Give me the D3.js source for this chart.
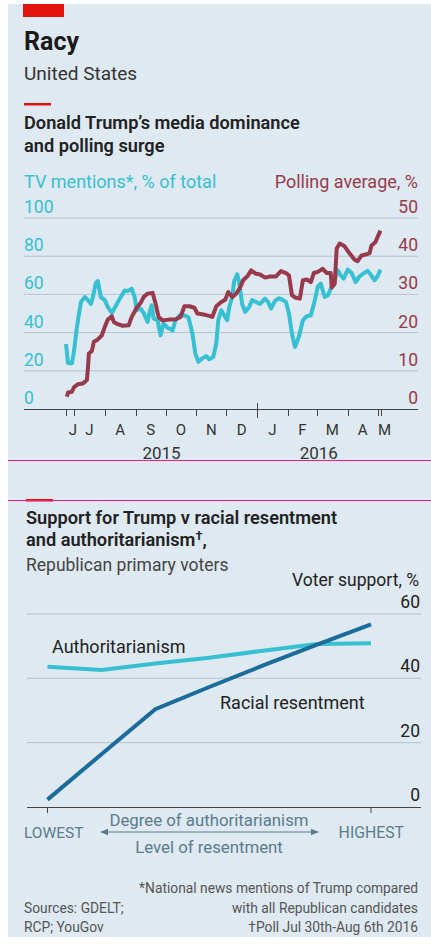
<!DOCTYPE html>
<html>
<head>
<meta charset="utf-8">
<script src="https://cdn.jsdelivr.net/npm/d3@7"></script>
<style>
  body { margin: 0; background: #fff; }
  svg text { font-family: Roboto, "Noto Sans", sans-serif; }
</style>
</head>
<body>
<svg id="chart" width="431" height="944"></svg>
<script>
// TV mentions, % of total (left axis)
var tvMentions = [
  ["2015-06-23",34],["2015-06-25",24],["2015-06-29",24],["2015-07-01",30],["2015-07-04",43],
  ["2015-07-08",56],["2015-07-12",58.6],["2015-07-15",57],["2015-07-18",55],["2015-07-20",58.6],
  ["2015-07-23",66],["2015-07-25",67],["2015-07-28",58.6],["2015-08-01",57],["2015-08-04",53.4],
  ["2015-08-08",50.3],["2015-08-11",53],["2015-08-16",57.8],["2015-08-21",62],["2015-08-24",61.8],
  ["2015-08-28",63],["2015-08-31",58.6],["2015-09-02",51.7],["2015-09-06",52.6],["2015-09-09",50.3],
  ["2015-09-13",45.6],["2015-09-15",50.8],["2015-09-17",54.3],["2015-09-19",47.4],["2015-09-23",46.5],
  ["2015-09-26",38.6],["2015-09-29",44.8],["2015-10-03",42.5],["2015-10-06",42],["2015-10-08",41],
  ["2015-10-11",46.5],["2015-10-15",49],["2015-10-20",49],["2015-10-24",48],["2015-10-28",39.5],
  ["2015-10-31",29],["2015-11-03",24.7],["2015-11-07",26.5],["2015-11-11",27.7],["2015-11-14",26],
  ["2015-11-18",27.3],["2015-11-21",34.3],["2015-11-23",46.5],["2015-11-26",51.7],["2015-11-29",49],
  ["2015-12-02",46.5],["2015-12-04",53.4],["2015-12-07",58.6],["2015-12-09",67],["2015-12-12",70.5],
  ["2015-12-14",66.5],["2015-12-17",55],["2015-12-20",50.8],["2015-12-24",53.4],["2015-12-27",57],
  ["2015-12-31",56],["2016-01-04",55],["2016-01-09",57.8],["2016-01-12",56],["2016-01-15",52.6],
  ["2016-01-19",56.6],["2016-01-23",58],["2016-01-27",57],["2016-01-30",56],["2016-02-02",50],
  ["2016-02-05",39.5],["2016-02-08",32.5],["2016-02-12",37.8],["2016-02-16",46.5],["2016-02-20",48.6],
  ["2016-02-24",49],["2016-02-28",57],["2016-03-02",64],["2016-03-05",65.6],["2016-03-09",58.6],
  ["2016-03-12",59.5],["2016-03-16",64],["2016-03-19",67.4],["2016-03-22",72.6],["2016-03-25",70],
  ["2016-03-28",68.3],["2016-04-01",73],["2016-04-05",71.2],["2016-04-09",66.5],["2016-04-13",69.5],
  ["2016-04-17",71],["2016-04-21",72.3],["2016-04-24",70.5],["2016-04-28",67.4],["2016-05-01",69.5],
  ["2016-05-04",73]
];

// Polling average, % (right axis)
var pollAverage = [
  ["2015-06-24",3.2],["2015-06-25",4.3],["2015-06-29",4.5],["2015-07-01",5.7],["2015-07-05",6.5],
  ["2015-07-10",6.7],["2015-07-14",7.6],["2015-07-15",10.6],["2015-07-16",14.5],["2015-07-19",15.2],
  ["2015-07-21",17.6],["2015-07-25",18.2],["2015-07-29",19.3],["2015-08-01",21.5],["2015-08-04",23.4],
  ["2015-08-08",24.3],["2015-08-10",22.8],["2015-08-14",22.2],["2015-08-19",21.8],["2015-08-25",21.9],
  ["2015-08-28",24.1],["2015-09-02",26.5],["2015-09-06",27.8],["2015-09-09",29.3],["2015-09-13",30.2],
  ["2015-09-18",30.4],["2015-09-21",27.6],["2015-09-24",24.1],["2015-09-28",23.2],["2015-10-05",23.4],
  ["2015-10-11",23.4],["2015-10-16",24.1],["2015-10-20",26.9],["2015-10-25",26.9],["2015-10-30",26.5],
  ["2015-11-02",25],["2015-11-07",24.8],["2015-11-12",24.5],["2015-11-17",24.1],["2015-11-21",26.9],
  ["2015-11-26",28],["2015-11-30",28.6],["2015-12-03",30.6],["2015-12-07",29.3],["2015-12-11",30.2],
  ["2015-12-15",31.8],["2015-12-18",33.7],["2015-12-23",35],["2015-12-26",36.3],["2015-12-31",35.4],
  ["2016-01-04",35.2],["2016-01-09",34.4],["2016-01-14",34.7],["2016-01-20",34.7],["2016-01-25",36.1],
  ["2016-01-30",35.6],["2016-02-02",35],["2016-02-05",29.8],["2016-02-08",29.2],["2016-02-13",28.9],
  ["2016-02-16",33.7],["2016-02-20",33.9],["2016-02-24",33.2],["2016-02-27",35.6],["2016-03-02",35.9],
  ["2016-03-07",36.7],["2016-03-11",35.6],["2016-03-15",35.6],["2016-03-16",31.8],["2016-03-19",32.8],
  ["2016-03-21",42],["2016-03-24",43.3],["2016-03-29",42.6],["2016-04-03",40.7],["2016-04-08",39.1],
  ["2016-04-11",38.7],["2016-04-15",40.2],["2016-04-20",40.5],["2016-04-23",40.8],["2016-04-25",42.8],
  ["2016-04-29",43.7],["2016-05-01",45],["2016-05-04",46.7]
];

var leftTicks = [0, 20, 40, 60, 80, 100];
var rightTicks = [0, 10, 20, 30, 40, 50];
var monthLabels = ["J","J","A","S","O","N","D","J","F","M","A","M"];
var yearLabels = ["2015", "2016"];

// second chart: support by level, lowest -> highest
var levels = [0, 1, 2, 3, 4, 5, 6];
var authoritarianism = [43.6, 42.6, 44.6, 46.4, 48.6, 50.7, 50.9];
var racialResentment = [2.3, 16.4, 30.4, 37.3, 44.0, 50.5, 56.8];
var supportTicks = [0, 20, 40, 60];

var bg = "#dee9f1", grid = "#b8c4cc", ink = "#222", cyan = "#37bfd2", maroon = "#983a4b",
    navy = "#1b6c9b", slate = "#5a7c8d", red = "#e3120b";

var parse = d3.timeParse("%Y-%m-%d");
var svg = d3.select("#chart");

svg.append("rect").attr("x", 8).attr("y", 4).attr("width", 423).attr("height", 933).attr("fill", bg);
svg.append("rect").attr("x", 23).attr("y", 4).attr("width", 41).attr("height", 13).attr("fill", red);

function txt(x, y, s, size, weight, color, anchor) {
  return svg.append("text").attr("x", x).attr("y", y).text(s)
    .style("font-size", size + "px").style("font-weight", weight || 400)
    .attr("fill", color || ink).attr("text-anchor", anchor || "start");
}

txt(24, 49.5, "Racy", 25, 700, "#1a1a1a");
txt(24, 80, "United States", 19, 400, "#333");
svg.append("rect").attr("x", 24).attr("y", 103).attr("width", 27).attr("height", 2.5).attr("fill", red);
txt(24, 128.5, "Donald Trump\u2019s media dominance", 18.2, 600, ink);
txt(24, 152, "and polling surge", 18.2, 600, ink);

// ---------- chart 1 ----------
var x = d3.scaleTime()
  .domain([parse("2015-06-23"), parse("2016-05-04")])
  .range([66, 380.5]);
var yL = d3.scaleLinear().domain([0, 100]).range([409, 218]);
var yR = d3.scaleLinear().domain([0, 50]).range([409, 218]);

txt(24, 188, "TV mentions*, % of total", 18, 400, cyan);
txt(418, 188, "Polling average, %", 18, 400, maroon, "end");

var g1 = svg.append("g");
g1.selectAll(".grid").data(leftTicks.slice(1)).enter().append("line")
  .attr("x1", 24).attr("x2", 418)
  .attr("y1", function (d) { return yL(d); }).attr("y2", function (d) { return yL(d); })
  .attr("stroke", grid).attr("stroke-width", 1);

g1.selectAll(".lt").data(leftTicks).enter().append("text")
  .attr("x", 24).attr("y", function (d) { return yL(d) - 5; })
  .text(function (d) { return d; })
  .style("font-size", "17.5px").attr("fill", cyan);
g1.selectAll(".rt").data(rightTicks).enter().append("text")
  .attr("x", 418).attr("y", function (d) { return yR(d) - 5; })
  .attr("text-anchor", "end")
  .text(function (d) { return d; })
  .style("font-size", "17.5px").attr("fill", maroon);

var tvLine = d3.line()
  .x(function (d) { return x(parse(d[0])); })
  .y(function (d) { return yL(d[1]); });
var pollLine = d3.line()
  .x(function (d) { return x(parse(d[0])); })
  .y(function (d) { return yR(d[1]); });

g1.append("path").datum(tvMentions).attr("d", tvLine)
  .attr("fill", "none").attr("stroke", cyan).attr("stroke-width", 4)
  .attr("stroke-linejoin", "round");
g1.append("path").datum(pollAverage).attr("d", pollLine)
  .attr("fill", "none").attr("stroke", maroon).attr("stroke-width", 4)
  .attr("stroke-linejoin", "round");

// x axis
g1.append("line").attr("x1", 24).attr("x2", 418).attr("y1", 409.5).attr("y2", 409.5)
  .attr("stroke", "#444").attr("stroke-width", 1.2);

var start = x.domain()[0], end = x.domain()[1];
var monthStarts = d3.timeMonth.range(d3.timeMonth.ceil(start), end);
var tickDates = [start].concat(monthStarts).concat([end]);
g1.selectAll(".xt").data(tickDates).enter().append("line")
  .attr("x1", function (d) { return Math.round(x(d)) + 0.5; })
  .attr("x2", function (d) { return Math.round(x(d)) + 0.5; })
  .attr("y1", function (d) { return d.getMonth() === 0 && d.getDate() === 1 ? 403 : 409; })
  .attr("y2", function (d) { return d.getMonth() === 0 && d.getDate() === 1 ? 418 : 416; })
  .attr("stroke", "#444").attr("stroke-width", 1);

var monthSpans = [start].concat(monthStarts);
g1.selectAll(".ml").data(monthSpans).enter().append("text")
  .attr("x", function (d, i) {
    var a = x(d), b = x(i + 1 < monthSpans.length ? monthSpans[i + 1] : end);
    return Math.max((a + b) / 2, a + 7);
  })
  .attr("y", 435)
  .attr("text-anchor", "middle")
  .text(function (d, i) { return monthLabels[i]; })
  .style("font-size", "15px").attr("fill", "#333");

var jan = parse("2016-01-01");
txt((x(start) + x(jan)) / 2, 459, yearLabels[0], 17, 400, "#333", "middle");
txt((x(jan) + x(end)) / 2, 459, yearLabels[1], 17, 400, "#333", "middle");

// magenta guide lines
svg.append("line").attr("x1", 8).attr("x2", 431).attr("y1", 460.5).attr("y2", 460.5)
  .attr("stroke", "#ec1a84").attr("stroke-width", 1);
svg.append("rect").attr("x", 26).attr("y", 499).attr("width", 27).attr("height", 2.5).attr("fill", red);
svg.append("line").attr("x1", 8).attr("x2", 431).attr("y1", 500.5).attr("y2", 500.5)
  .attr("stroke", "#ec1a84").attr("stroke-width", 1);

// ---------- chart 2 ----------
txt(26, 524, "Support for Trump v racial resentment", 18.2, 600, ink);
txt(26, 546, "and authoritarianism", 18.2, 600, ink)
  .append("tspan").text("\u2020").attr("dy", -6).style("font-size", "13px")
  .select(function () { return this.parentNode; })
  .append("tspan").text(",").attr("dy", 6);
txt(26, 571, "Republican primary voters", 17.5, 400, "#444");
txt(419, 586, "Voter support, %", 17.5, 400, ink, "end");

var x2 = d3.scaleLinear().domain([0, 6]).range([47.5, 371]);
var y2 = d3.scaleLinear().domain([0, 60]).range([807, 614]);

var g2 = svg.append("g");
g2.selectAll(".grid").data(supportTicks.slice(1)).enter().append("line")
  .attr("x1", 27).attr("x2", 421)
  .attr("y1", function (d) { return y2(d); }).attr("y2", function (d) { return y2(d); })
  .attr("stroke", grid).attr("stroke-width", 1);
g2.selectAll(".st").data(supportTicks).enter().append("text")
  .attr("x", 420).attr("y", function (d) { return y2(d) - 6; })
  .attr("text-anchor", "end")
  .text(function (d) { return d; })
  .style("font-size", "17.5px").attr("fill", ink);

var line2 = d3.line()
  .x(function (d, i) { return x2(levels[i]); })
  .y(function (d) { return y2(d); });
g2.append("path").datum(authoritarianism).attr("d", line2)
  .attr("fill", "none").attr("stroke", cyan).attr("stroke-width", 4);
g2.append("path").datum(racialResentment).attr("d", line2)
  .attr("fill", "none").attr("stroke", navy).attr("stroke-width", 4);

txt(52, 653, "Authoritarianism", 18, 400, ink);
txt(220, 709, "Racial resentment", 18, 400, ink);

g2.append("line").attr("x1", 27).attr("x2", 421).attr("y1", 807.5).attr("y2", 807.5)
  .attr("stroke", "#444").attr("stroke-width", 1.2);
g2.selectAll(".lt2").data([levels[0], levels[levels.length - 1]]).enter().append("line")
  .attr("x1", function (d) { return x2(d); }).attr("x2", function (d) { return x2(d); })
  .attr("y1", 807).attr("y2", 813)
  .attr("stroke", "#444").attr("stroke-width", 1);

txt(24, 837.5, "LOWEST", 15.5, 400, slate);
txt(404, 837.5, "HIGHEST", 15.8, 400, slate, "end");
txt(209, 826, "Degree of authoritarianism", 16.8, 400, slate, "middle");
txt(209, 852.5, "Level of resentment", 16.8, 400, slate, "middle");

var defs = svg.append("defs");
defs.append("marker").attr("id", "ah").attr("viewBox", "0 0 10 10")
  .attr("refX", 5).attr("refY", 5).attr("markerWidth", 8).attr("markerHeight", 8)
  .attr("orient", "auto-start-reverse").attr("markerUnits", "userSpaceOnUse")
  .append("path").attr("d", "M0,1 L10,5 L0,9 Z").attr("fill", slate);
svg.append("line").attr("x1", 104).attr("x2", 315).attr("y1", 832).attr("y2", 832)
  .attr("stroke", slate).attr("stroke-width", 1.2)
  .attr("marker-start", "url(#ah)").attr("marker-end", "url(#ah)");

// footnotes
txt(418, 893, "*National news mentions of Trump compared", 13.8, 400, "#555", "end");
txt(418, 913, "with all Republican candidates", 13.8, 400, "#555", "end");
txt(418, 932, "\u2020Poll Jul 30th-Aug 6th 2016", 13.8, 400, "#555", "end");
txt(24, 913, "Sources: GDELT;", 13.8, 400, "#555");
txt(24, 932, "RCP; YouGov", 13.8, 400, "#555");
</script>
</body>
</html>
